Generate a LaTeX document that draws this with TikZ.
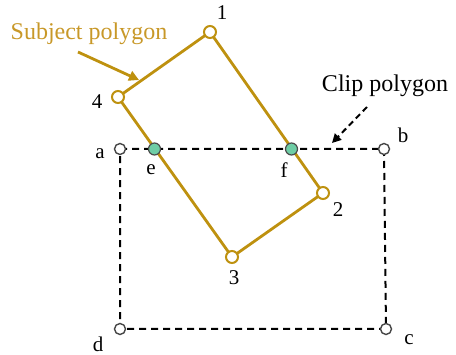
\documentclass[tikz,border=0pt]{standalone}
\usepackage{fontspec}
\setmainfont{Liberation Serif}
\usetikzlibrary{arrows.meta}
\definecolor{gold}{RGB}{190,145,15}
\definecolor{goldtext}{RGB}{200,152,40}
\definecolor{dotgreen}{RGB}{110,205,165}
\definecolor{clipgrey}{RGB}{70,70,70}
\tikzset{
  subj/.style={draw=gold, line width=2.8pt},
  clipline/.style={draw=black, line width=2pt, dash pattern=on 7pt off 5pt},
  svert/.style={circle, draw=gold, fill=white, line width=2pt, minimum size=12pt, inner sep=0pt},
  cvert/.style={circle, draw=clipgrey, fill=white, line width=1.4pt, minimum size=11pt, inner sep=0pt},
  ivert/.style={circle, draw=black!70, fill=dotgreen, line width=1.2pt, minimum size=12pt, inner sep=0pt},
  lbl/.style={font=\fontsize{21}{22}\selectfont, inner sep=0pt},
  ttl/.style={font=\fontsize{24}{26}\selectfont, inner sep=0pt}
}
\begin{document}
\begin{tikzpicture}[x=1pt,y=-1pt]
\useasboundingbox (0,0) rectangle (456,355);
% clip polygon
\coordinate (a) at (120,149);
\coordinate (b) at (384,149);
\coordinate (c) at (386,329);
\coordinate (d) at (120,329);
\draw[clipline] (a) -- (b) -- (c) -- (d) -- cycle;
% subject polygon
\coordinate (p1) at (210,32);
\coordinate (p2) at (323,193);
\coordinate (p3) at (232,257);
\coordinate (p4) at (118,97);
\draw[subj, line join=round] (p1) -- (p2) -- (p3) -- (p4) -- cycle;
% vertices
\node[cvert] (na) at (a) {};
\node[cvert] (nb) at (b) {};
\node[cvert] (nc) at (c) {};
\node[cvert] (nd) at (d) {};
\node[svert] (n1) at (p1) {};
\node[svert] (n2) at (p2) {};
\node[svert] (n3) at (p3) {};
\node[svert] (n4) at (p4) {};
\node[ivert] (ne) at (154.5,149) {};
\node[ivert] (nf) at (291.5,149) {};
% labels
\node[lbl] (l1) at (222,13) {1};
\node[lbl] (l2) at (338,210) {2};
\node[lbl] (l3) at (234,278) {3};
\node[lbl] (l4) at (97,102) {4};
\node[lbl] (la) at (100,154) {a};
\node[lbl] (lb) at (403,135) {b};
\node[lbl] (lc) at (409,340) {c};
\node[lbl] (ld) at (98,344) {d};
\node[lbl] (le) at (151,170) {e};
\node[lbl] (lf) at (284,170) {f};
% titles
\node[ttl, text=goldtext] (st) at (89,34) {Subject polygon};
\node[ttl] (ct) at (385,86) {Clip polygon};
% arrows
\coordinate (sa0) at (78,52);
\coordinate (sa1) at (139,80);
\draw[draw=gold, line width=2.8pt, -{Triangle[length=10pt,width=10pt]}] (sa0) -- (sa1);
\coordinate (ca0) at (367,107);
\coordinate (ca1) at (332,143);
\draw[draw=black, line width=2pt, dash pattern=on 6pt off 4pt, -{Triangle[length=9pt,width=9pt]}] (ca0) -- (ca1);
\end{tikzpicture}
\end{document}
